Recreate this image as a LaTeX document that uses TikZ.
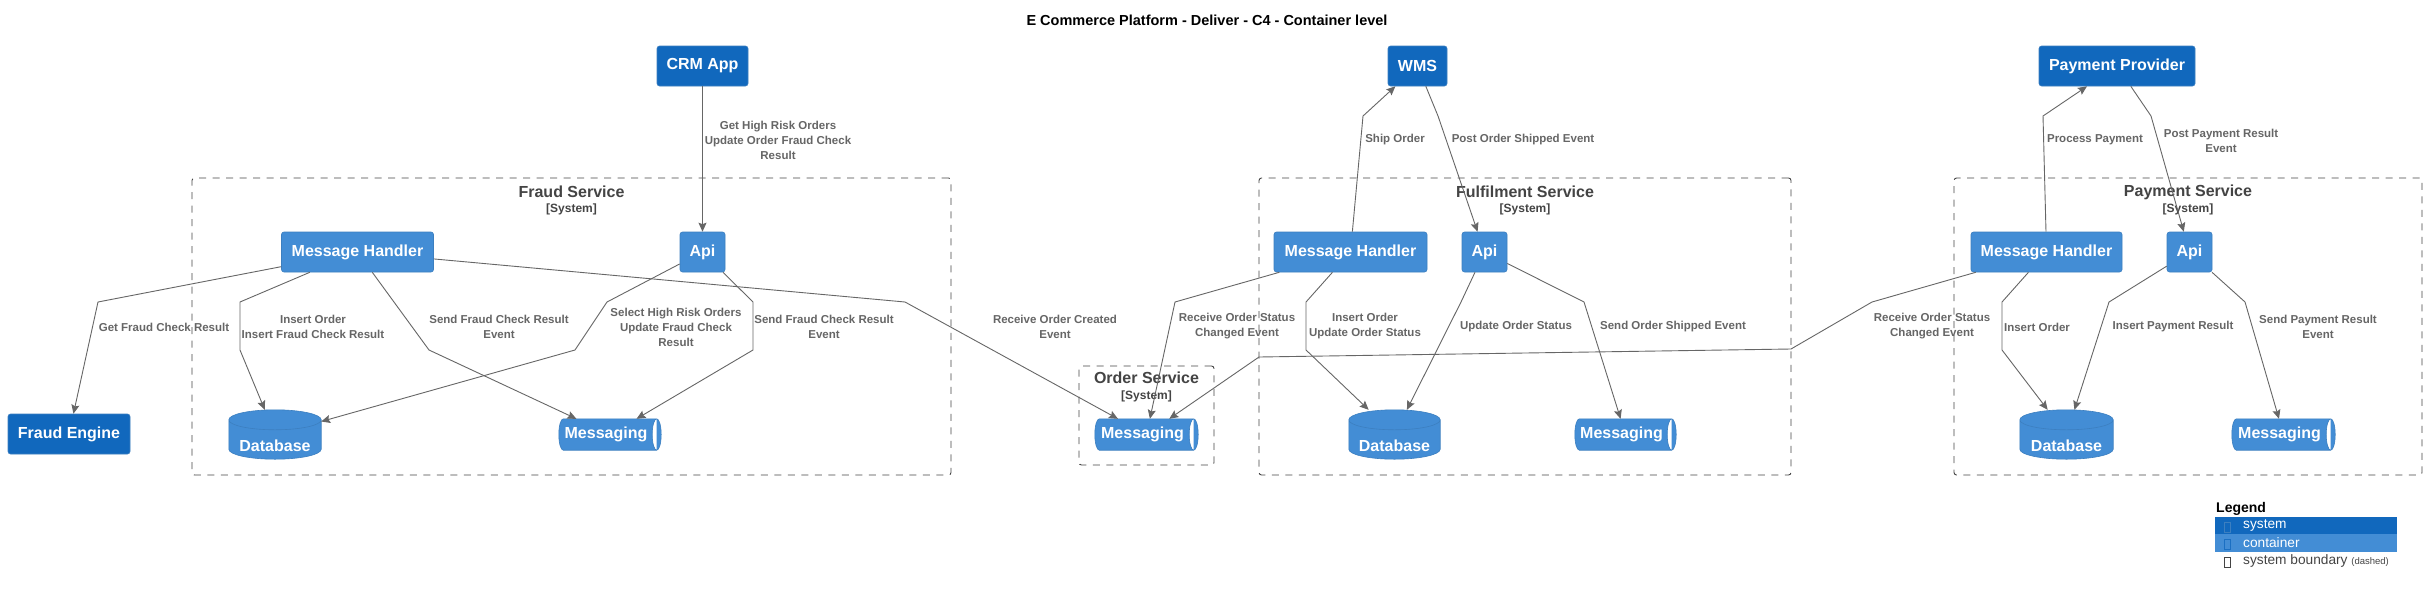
\documentclass[tikz,border=0pt]{standalone}
\usepackage{fontspec}
\setmainfont{Liberation Sans}
\usetikzlibrary{arrows.meta,calc}
\definecolor{sysblue}{HTML}{1168BD}
\definecolor{contblue}{HTML}{438DD5}
\definecolor{nodeborder}{HTML}{3C7FC0}
\definecolor{linegray}{HTML}{666666}
\definecolor{bgray}{HTML}{444444}
\definecolor{labelgray}{HTML}{666666}
\pgfdeclarelayer{background}
\pgfsetlayers{background,main}
\newcommand\dbdraw[1]{%
  \path[cylfill] let \p1=(#1.north west), \p2=(#1.south east), \n1={(\x2-\x1)/2} in
    (\x1,\y1-10pt) -- (\x1,\y2+10pt)
    arc[start angle=180,end angle=360,x radius=\n1,y radius=10pt]
    -- (\x2,\y1-10pt)
    arc[start angle=0,end angle=180,x radius=\n1,y radius=10pt] -- cycle
    (\x1,\y1-10pt) arc[start angle=180,end angle=360,x radius=\n1,y radius=10pt];}
\newcommand\msgdraw[1]{%
  \path[cylfill] let \p1=(#1.north west), \p2=(#1.south east), \n1={(\y1-\y2)/2} in
    (\x1+4.5pt,\y1) -- (\x2-4.5pt,\y1)
    arc[start angle=90,end angle=-90,x radius=4.5pt,y radius=\n1]
    -- (\x1+4.5pt,\y2)
    arc[start angle=270,end angle=90,x radius=4.5pt,y radius=\n1] -- cycle
    (\x2-4.5pt,\y1) arc[start angle=90,end angle=270,x radius=4.5pt,y radius=\n1];}
\begin{document}
\begin{tikzpicture}[x=1pt,y=-1pt,
  sysnode/.style={rectangle, rounded corners=2.5pt, fill=sysblue, draw=nodeborder, line width=0.6pt,
    text=white, font=\bfseries\fontsize{16}{19}\selectfont, minimum height=40pt, inner sep=0pt},
  contnode/.style={sysnode, fill=contblue},
  shapebox/.style={rectangle, inner sep=0pt, draw=none, fill=none},
  cylfill/.style={fill=contblue, draw=nodeborder, line width=0.6pt},
  dbtext/.style={text=white, font=\bfseries\fontsize{16}{19}\selectfont, inner sep=0pt, yshift=-11.5pt},
  msgtext/.style={text=white, font=\bfseries\fontsize{16}{19}\selectfont, inner sep=0pt, xshift=-4pt},
  rel/.style={draw=linegray, line width=0.9pt, line join=round, -{Stealth[length=9pt,width=8pt,inset=1.5pt]}},
  rlabel/.style={text=labelgray, font=\bfseries\fontsize{11.5}{15}\selectfont, align=center, inner sep=0pt},
  bnd/.style={rectangle, draw=bgray, line width=0.9pt, dash pattern=on 7pt off 6.5pt, rounded corners=2.5pt, inner sep=0pt},
  btitle/.style={text=bgray, font=\bfseries\fontsize{16}{19}\selectfont, inner sep=0pt},
  bsub/.style={text=bgray, font=\bfseries\fontsize{12}{14}\selectfont, inner sep=0pt},
  legbar/.style={rectangle, inner sep=0pt, draw=none, anchor=north west, minimum width=182pt},
  legtext/.style={anchor=west, inner sep=0pt, font=\fontsize{13.7}{16}\selectfont},
]
\useasboundingbox (0,0) rectangle (2427,595);
\begin{pgfonlayer}{background}
  \fill[white] (0,0) rectangle (2427,595);
\end{pgfonlayer}

\node[font=\bfseries\fontsize{14.5}{17}\selectfont, inner sep=0pt] (title) at (1207,20) {E Commerce Platform - Deliver - C4 - Container level};

% boundaries
\node[bnd, minimum width=759pt, minimum height=297pt] (bfraud) at (571.5,326.5) {};
\node[btitle] (tfraud) at (571.5,192) {Fraud Service};
\node[bsub] (sfraud) at (571.5,209) {[System]};
\node[bnd, minimum width=135pt, minimum height=99pt] (border) at (1146.5,415.5) {};
\node[btitle] (torder) at (1146.5,378) {Order Service};
\node[bsub] (sorder) at (1146.5,396) {[System]};
\node[bnd, minimum width=532pt, minimum height=297pt] (bful) at (1525,326.5) {};
\node[btitle] (tful) at (1525,192) {Fulfilment Service};
\node[bsub] (sful) at (1525,209) {[System]};
\node[bnd, minimum width=468pt, minimum height=297pt] (bpay) at (2188,326.5) {};
\node[btitle] (tpay) at (2188,192) {Payment Service};
\node[bsub] (spay) at (2188,209) {[System]};

% external systems
\node[sysnode, minimum width=91pt] (crm) at (702.5,66) {CRM App};
\node[sysnode, minimum width=59pt] (wms) at (1417.5,66) {WMS};
\node[sysnode, minimum width=156pt] (pp) at (2117,66) {Payment Provider};
\node[sysnode, minimum width=122pt] (fe) at (69,434) {Fraud Engine};

% fraud containers
\node[contnode, minimum width=152pt] (fmh) at (357.5,252) {Message Handler};
\node[contnode, minimum width=45pt] (fapi) at (702.5,252) {Api};
\node[shapebox, minimum width=92pt, minimum height=49pt, label={[dbtext]center:Database}] (fdb) at (275,434.5) {};
\node[shapebox, minimum width=102pt, minimum height=31pt, label={[msgtext]center:Messaging}] (fmsg) at (610,434.5) {};

% order
\node[shapebox, minimum width=103pt, minimum height=31pt, label={[msgtext]center:Messaging}] (omsg) at (1146.5,434.5) {};

% fulfilment
\node[contnode, minimum width=153pt] (fulmh) at (1350.5,252) {Message Handler};
\node[contnode, minimum width=45pt] (fulapi) at (1484.5,252) {Api};
\node[shapebox, minimum width=91pt, minimum height=49pt, label={[dbtext]center:Database}] (fuldb) at (1394.5,434.5) {};
\node[shapebox, minimum width=101pt, minimum height=31pt, label={[msgtext]center:Messaging}] (fulmsg) at (1625.5,434.5) {};

% payment
\node[contnode, minimum width=151pt] (pmh) at (2046.5,252) {Message Handler};
\node[contnode, minimum width=45pt] (papi) at (2189.5,252) {Api};
\node[shapebox, minimum width=93pt, minimum height=49pt, label={[dbtext]center:Database}] (pdb) at (2066.5,434.5) {};
\node[shapebox, minimum width=103pt, minimum height=31pt, label={[msgtext]center:Messaging}] (pmsg) at (2283.5,434.5) {};

\begin{pgfonlayer}{background}
  \dbdraw{fdb}
  \dbdraw{fuldb}
  \dbdraw{pdb}
  \msgdraw{fmsg}
  \msgdraw{omsg}
  \msgdraw{fulmsg}
  \msgdraw{pmsg}
\end{pgfonlayer}

% connectors
\draw[rel] (crm) -- (fapi);
\draw[rel] (fmh) -- (98,302) -- (fe);
\draw[rel] (fmh) -- (240,302) -- (240,350) -- (fdb);
\draw[rel] (fmh) -- (429,350) -- (fmsg);
\draw[rel] (fapi) -- (607,302) -- (575,350) -- (fdb);
\draw[rel] (fapi) -- (753,302) -- (753,350) -- (fmsg);
\draw[rel] (fmh) -- (905,302) -- (omsg);
\draw[rel] (fulmh) -- (1175,302) -- (omsg);
\draw[rel] (pmh) -- (1872,302) -- (1791,349) -- (1259,357) -- (omsg);
\draw[rel] (fulmh) -- (1363,116) -- (wms);
\draw[rel] (wms) -- (1438,116) -- (fulapi);
\draw[rel] (fulmh) -- (1306,302) -- (1306,350) -- (fuldb);
\draw[rel] (fulapi) -- (1461,302) -- (fuldb);
\draw[rel] (fulapi) -- (1584,302) -- (fulmsg);
\draw[rel] (pmh) -- (2043,116) -- (pp);
\draw[rel] (pp) -- (2151,116) -- (papi);
\draw[rel] (pmh) -- (2002,302) -- (2002,350) -- (pdb);
\draw[rel] (papi) -- (2109,302) -- (pdb);
\draw[rel] (papi) -- (2245,302) -- (pmsg);

% connector labels
\node[rlabel] (lcrm) at (778,140) {Get High Risk Orders\\Update Order Fraud Check\\Result};
\node[rlabel] (lfe) at (164,327) {Get Fraud Check Result};
\node[rlabel] (lfdb) at (313,326.5) {Insert Order\\Insert Fraud Check Result};
\node[rlabel] (lfmsga) at (499,326.5) {Send Fraud Check Result\\Event};
\node[rlabel] (lfapidb) at (676,327) {Select High Risk Orders\\Update Fraud Check\\Result};
\node[rlabel] (lfmsgb) at (824,326.5) {Send Fraud Check Result\\Event};
\node[rlabel] (loc) at (1055,326.5) {Receive Order Created\\Event};
\node[rlabel] (losa) at (1237,326.5) {Receive Order Status\\Changed Event};
\node[rlabel] (losb) at (1932,326.5) {Receive Order Status\\Changed Event};
\node[rlabel] (lship) at (1395,140) {Ship Order};
\node[rlabel] (lpose) at (1523,140) {Post Order Shipped Event};
\node[rlabel] (lfuldb) at (1365,326.5) {Insert Order\\Update Order Status};
\node[rlabel] (luos) at (1516,327) {Update Order Status};
\node[rlabel] (lsose) at (1673,327) {Send Order Shipped Event};
\node[rlabel] (lpp) at (2095,140) {Process Payment};
\node[rlabel] (lppr) at (2221,140.5) {Post Payment Result\\Event};
\node[rlabel] (lpio) at (2037,327) {Insert Order};
\node[rlabel] (lipr) at (2173,327) {Insert Payment Result};
\node[rlabel] (lspr) at (2318,326.5) {Send Payment Result\\Event};

% legend
\node[anchor=west, inner sep=0pt, font=\bfseries\fontsize{14}{16}\selectfont] (legend) at (2216,509) {Legend};
\node[legbar, fill=sysblue, minimum height=17pt] (legsys) at (2215,517) {};
\node[legbar, fill=contblue, minimum height=18pt] (legcont) at (2215,534) {};
\draw[draw=nodeborder, line width=0.6pt] (2224,522) rectangle (2230,532);
\draw[draw=sysblue!80!contblue, line width=0.6pt] (2224,539) rectangle (2230,549);
\draw[draw=bgray, line width=0.7pt] (2224,557) rectangle (2230,567);
\node[legtext, text=white] (legsyst) at (2243,525.5) {system};
\node[legtext, text=white] (legcontt) at (2243,543) {container};
\node[legtext, text=bgray] (legbndt) at (2243,561) {system boundary {\fontsize{9.5}{11}\selectfont(dashed)}};
\end{tikzpicture}
\end{document}
